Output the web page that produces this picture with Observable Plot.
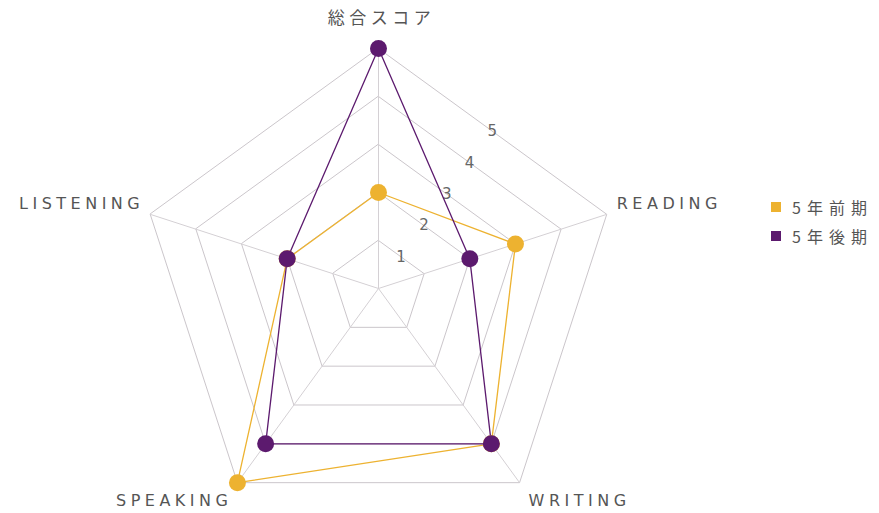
<!DOCTYPE html>
<html>
<head>
<meta charset="utf-8">
<script src="https://cdn.jsdelivr.net/npm/d3@7"></script>
<script src="https://cdn.jsdelivr.net/npm/@observablehq/plot@0.6"></script>
<style>
  html, body { margin: 0; padding: 0; background: #fff; }
  #wrap { position: relative; width: 879px; height: 513px; font-family: "DejaVu Sans", "Noto Sans CJK JP", sans-serif; }
  #chart svg text { letter-spacing: 4.5px; }
  #legend { position: absolute; left: 771px; top: 192px; font-size: 16px; color: #555; letter-spacing: 6px; font-family: "Noto Sans CJK JP", sans-serif; }
  #legend .row { display: flex; align-items: center; height: 29px; }
  #legend .sw { width: 10px; height: 10px; margin-right: 11px; flex: none; }
</style>
</head>
<body>
<div id="wrap"><div id="chart"></div><div id="legend"></div></div>
<script>
const axes = ["総合スコア", "READING", "WRITING", "SPEAKING", "LISTENING"];
const early = [2, 3, 4, 5, 2];   // 5年前期
const late = [5, 2, 4, 4, 2];    // 5年後期
const seriesNames = ["5年前期", "5年後期"];
const seriesColors = ["#EDB230", "#5C1A6E"];
const ticks = [1, 2, 3, 4, 5];
const maxValue = 5;

const N = axes.length;
const ang = i => i * 2 * Math.PI / N;
const px = (r, i) => r * Math.sin(ang(i));
const py = (r, i) => r * Math.cos(ang(i));

const seriesRows = [early, late].flatMap((vals, s) =>
  vals.map((v, i) => ({series: seriesNames[s], axis: axes[i], i, v})));
const gridRows = ticks.flatMap(k => axes.map((a, i) => ({k, i})));
const axisRows = axes.map((a, i) => ({a, i}));
const tickRows = ticks.map(k => ({k}));
const midR = Math.cos(Math.PI / N);

const cx = 378, cy = 288, R = 240;
const color = {domain: seriesNames, range: seriesColors};
const lab = {fill: "#555", fontSize: 16, fontFamily: '"DejaVu Sans", "Noto Sans CJK JP", sans-serif'};

const chart = Plot.plot({
  width: 879, height: 513,
  margin: 0,
  x: {domain: [-maxValue, maxValue], range: [cx - R, cx + R], axis: null},
  y: {domain: [-maxValue, maxValue], range: [cy + R, cy - R], axis: null},
  color,
  style: {fontFamily: '"DejaVu Sans", "Noto Sans CJK JP", sans-serif', background: "#fff"},
  marks: [
    Plot.line(gridRows, {x: d => px(d.k, d.i), y: d => py(d.k, d.i), z: "k", curve: "linear-closed", stroke: "#cbc6cb", strokeWidth: 1}),
    Plot.link(axisRows, {x1: () => 0, y1: () => 0, x2: d => px(maxValue, d.i), y2: d => py(maxValue, d.i), stroke: "#d4d0d4", strokeWidth: 1}),
    Plot.text(tickRows, {x: d => px(d.k * midR, 0.5), y: d => py(d.k * midR, 0.5), text: d => String(d.k), fill: "#666", fontSize: 15, dx: 2}),
    Plot.line(seriesRows, {x: d => px(d.v, d.i), y: d => py(d.v, d.i), z: "series", stroke: "series", curve: "linear-closed", strokeWidth: 1.3}),
    Plot.dot(seriesRows, {x: d => px(d.v, d.i), y: d => py(d.v, d.i), fill: "series", r: 8.5}),
    Plot.text(axisRows.filter(d => d.i === 0), {x: d => px(maxValue, d.i), y: d => py(maxValue, d.i), text: "a", dy: -30, dx: 3, ...lab, fontSize: 17, fontFamily: '"Noto Sans CJK JP", sans-serif'}),
    Plot.text(axisRows.filter(d => d.i === 1), {x: d => px(maxValue, d.i), y: d => py(maxValue, d.i), text: "a", dx: 10, dy: -10, textAnchor: "start", ...lab}),
    Plot.text(axisRows.filter(d => d.i === 4), {x: d => px(maxValue, d.i), y: d => py(maxValue, d.i), text: "a", dx: -6, dy: -10, textAnchor: "end", ...lab}),
    Plot.text(axisRows.filter(d => d.i === 2), {x: d => px(maxValue, d.i), y: d => py(maxValue, d.i), text: "a", dx: 9, dy: 18, textAnchor: "start", ...lab}),
    Plot.text(axisRows.filter(d => d.i === 3), {x: d => px(maxValue, d.i), y: d => py(maxValue, d.i), text: "a", dx: -5, dy: 18, textAnchor: "end", ...lab})
  ]
});
document.getElementById("chart").appendChild(chart);

const legend = d3.select("#legend");
seriesNames.forEach((name, s) => {
  const row = legend.append("div").attr("class", "row");
  row.append("div").attr("class", "sw").style("background", seriesColors[s]);
  row.append("span").text(name);
});
</script>
</body>
</html>
